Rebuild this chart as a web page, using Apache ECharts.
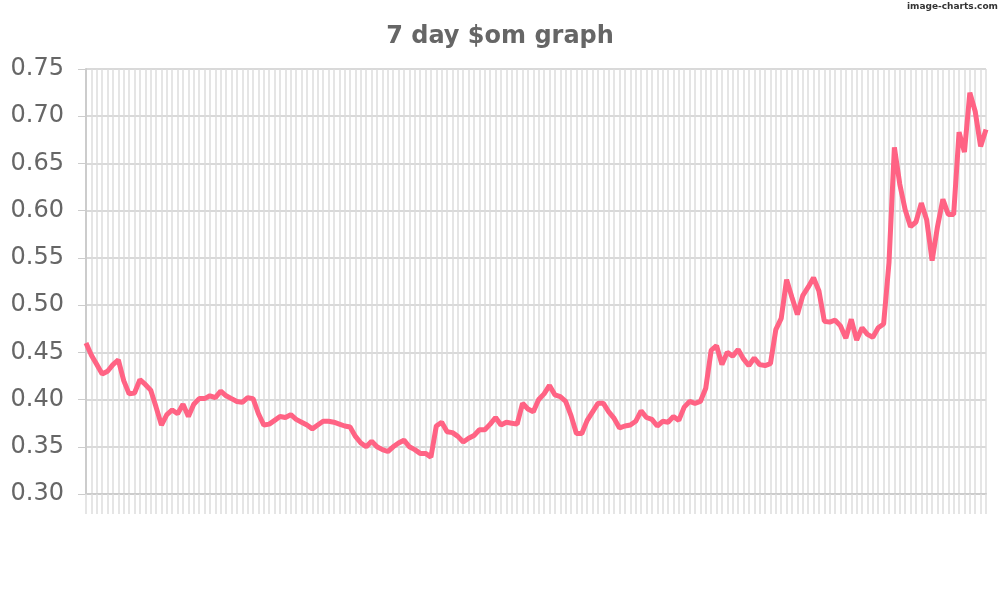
<!DOCTYPE html><html><head><meta charset="utf-8"><script src="https://cdn.jsdelivr.net/npm/echarts@6/dist/echarts.min.js"></script></head><body style="margin:0"><div id="c" style="width:1000px;height:600px"></div><script>
const values=[0.460,0.447,0.437,0.427,0.430,0.437,0.442,0.420,0.406,0.407,0.421,0.416,0.410,0.392,0.373,0.384,0.389,0.385,0.395,0.382,0.395,0.401,0.401,0.404,0.402,0.409,0.404,0.401,0.398,0.397,0.402,0.401,0.385,0.373,0.374,0.378,0.382,0.381,0.384,0.379,0.376,0.373,0.369,0.373,0.377,0.377,0.376,0.374,0.372,0.371,0.361,0.354,0.350,0.356,0.350,0.347,0.345,0.350,0.354,0.357,0.350,0.347,0.343,0.343,0.339,0.372,0.376,0.366,0.365,0.361,0.355,0.359,0.362,0.368,0.368,0.374,0.381,0.373,0.376,0.375,0.374,0.396,0.390,0.387,0.400,0.406,0.415,0.405,0.403,0.398,0.383,0.364,0.364,0.378,0.387,0.396,0.396,0.387,0.380,0.370,0.372,0.373,0.377,0.388,0.381,0.379,0.372,0.377,0.376,0.382,0.378,0.392,0.398,0.396,0.398,0.412,0.452,0.457,0.437,0.450,0.446,0.453,0.443,0.436,0.444,0.437,0.436,0.438,0.474,0.486,0.527,0.508,0.490,0.510,0.519,0.529,0.515,0.483,0.482,0.484,0.478,0.465,0.485,0.463,0.476,0.469,0.466,0.476,0.480,0.545,0.667,0.628,0.601,0.583,0.588,0.608,0.590,0.547,0.583,0.612,0.596,0.596,0.683,0.662,0.725,0.705,0.668,0.686];
const categories=values.map((v,i)=>String(i+1));
const yTicks={min:0.30,max:0.75,interval:0.05};
const ch=echarts.init(document.getElementById('c'));
ch.setOption({animation:false,
title:{text:'7 day $om graph',left:'center',top:20,textStyle:{fontFamily:'DejaVu Sans',fontSize:24,fontWeight:'bold',color:'#666'}},
graphic:[{type:'text',right:2,top:2,style:{text:'image-charts.com',font:'bold 9px DejaVu Sans',fill:'#333'}}],
grid:{left:86,right:14,top:69,bottom:106},
xAxis:{type:'category',data:categories,boundaryGap:false,
 axisLine:{lineStyle:{color:'#ccc',width:2}},axisTick:{show:true,interval:0,length:20,lineStyle:{color:'#ddd',width:1.5}},
 axisLabel:{show:false},splitLine:{show:true,interval:0,lineStyle:{color:'#ddd',width:1.5}}},
yAxis:{type:'value',min:yTicks.min,max:yTicks.max,interval:yTicks.interval,
 axisLine:{show:true,lineStyle:{color:'#ccc',width:2}},axisTick:{show:true,length:8,lineStyle:{color:'#ccc'}},
 axisLabel:{fontFamily:'DejaVu Sans',fontSize:24,color:'#666',margin:22,formatter:v=>v.toFixed(2)},
 splitLine:{lineStyle:{color:'#ccc',width:1.5}}},
series:[{type:'line',data:values,showSymbol:false,lineStyle:{color:'#ff6384',width:5},itemStyle:{color:'#ff6384'}}]
});
</script></body></html>
